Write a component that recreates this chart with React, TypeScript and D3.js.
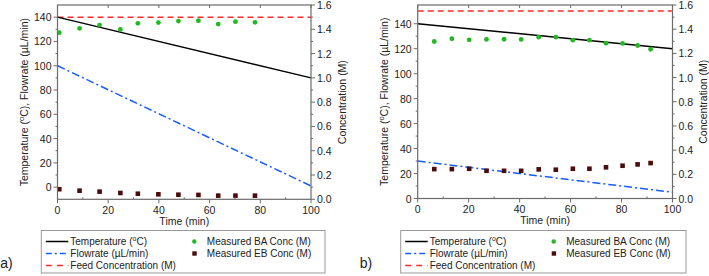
import React from "react";
import * as d3 from "d3";

const timeLine = [0, 100];
const tempA = [140, 90];
const flowA = [100, 1];
const feedA = 1.5;
const timesA = [0.7, 8.7, 16.6, 24.8, 31.7, 39.8, 47.7, 55.6, 63.4, 70.2, 77.9];
const baA = [1.372, 1.407, 1.435, 1.399, 1.449, 1.455, 1.468, 1.471, 1.443, 1.463, 1.457];
const ebA = [0.083, 0.071, 0.063, 0.052, 0.046, 0.041, 0.038, 0.036, 0.03, 0.03, 0.03];

const tempB = [140, 120];
const flowB = [30, 5];
const feedB = 1.55;
const timesB = [6.5, 13.4, 20.2, 27.0, 33.9, 40.6, 47.5, 54.2, 60.9, 67.4, 73.9, 80.4, 86.3, 91.4];
const baB = [1.298, 1.321, 1.312, 1.315, 1.317, 1.315, 1.334, 1.334, 1.309, 1.309, 1.284, 1.282, 1.265, 1.234];
const ebB = [0.243, 0.243, 0.246, 0.229, 0.229, 0.229, 0.241, 0.238, 0.246, 0.246, 0.258, 0.271, 0.282, 0.293];

const xTicks = [0, 20, 40, 60, 80, 100];
const leftTicks = [0, 20, 40, 60, 80, 100, 120, 140];
const rightTicks = [0, 0.2, 0.4, 0.6, 0.8, 1.0, 1.2, 1.4, 1.6];

const FONT = "Liberation Sans, Arial, sans-serif";
const AX = "#6b6b6b";
const BLACK = "#000";
const BLUE = "#1a5cff";
const RED = "#ff2a2a";
const GREEN = "#22b822";
const MAROON = "#4a0c0c";
const TICK_FS = 10.5;
const LAB_FS = 10.5;
const LEG_FS = 10;

type PanelProps = {
  x0: number; x1: number; yTop: number; yBot: number;
  leftDomain: [number, number];
  temp: number[]; flow: number[]; feed: number;
  times: number[]; ba: number[]; eb: number[];
  label: string; legX: number; legW: number;
};

function Panel(p: PanelProps) {
  const x = d3.scaleLinear().domain([0, 100]).range([p.x0, p.x1]);
  const yL = d3.scaleLinear().domain(p.leftDomain).range([p.yBot, p.yTop]);
  const yR = d3.scaleLinear().domain([0, 1.6]).range([p.yBot, p.yTop]);
  const line = d3.line<[number, number]>().x((d) => d[0]).y((d) => d[1]);
  const tempPath = line(timeLine.map((t, i) => [x(t), yL(p.temp[i])]));
  const flowPath = line(timeLine.map((t, i) => [x(t), yL(p.flow[i])]));
  const feedPath = line(timeLine.map((t) => [x(t), yR(p.feed)]));
  const xMinor = d3.range(10, 100, 20);
  const leftMinor = d3.range(10, 150, 20).filter((v) => v > p.leftDomain[0] && v < p.leftDomain[1]);
  const rightMinor = d3.range(0.1, 1.6, 0.2);
  const xMid = (p.x0 + p.x1) / 2;
  const yMid = (p.yTop + p.yBot) / 2;
  const legY = [241.5, 253.5, 265.5];
  const lx = p.legX;
  return (
    <g fontFamily={FONT} fill="#222">
      {/* data */}
      <path d={feedPath!} stroke={RED} strokeWidth={1.5} fill="none" strokeDasharray="6,4" />
      <path d={tempPath!} stroke={BLACK} strokeWidth={1.5} fill="none" />
      <path d={flowPath!} stroke={BLUE} strokeWidth={1.5} fill="none" strokeDasharray="8,3,2,3" />
      {p.times.map((t, i) => (
        <circle key={"g" + i} cx={x(t)} cy={yR(p.ba[i])} r={2.4} fill={GREEN} />
      ))}
      {p.times.map((t, i) => (
        <rect key={"m" + i} x={x(t) - 2.3} y={yR(p.eb[i]) - 2.3} width={4.6} height={4.6} fill={MAROON} />
      ))}
      {/* frame */}
      <rect x={p.x0} y={p.yTop} width={p.x1 - p.x0} height={p.yBot - p.yTop} fill="none" stroke={AX} strokeWidth={1.2} />
      {/* bottom axis */}
      {xTicks.map((v) => (
        <g key={"xt" + v}>
          <line x1={x(v)} x2={x(v)} y1={p.yBot} y2={p.yBot + 4} stroke={AX} />
          <line x1={x(v)} x2={x(v)} y1={p.yTop} y2={p.yTop + 3} stroke={AX} />
          <text x={x(v)} y={p.yBot + 14.5} fontSize={TICK_FS} textAnchor="middle">{v}</text>
        </g>
      ))}
      {xMinor.map((v) => (
        <g key={"xm" + v}>
          <line x1={x(v)} x2={x(v)} y1={p.yBot} y2={p.yBot - 2} stroke={AX} />
        </g>
      ))}
      <text x={xMid} y={p.yBot + 25.5} fontSize={LAB_FS} textAnchor="middle">Time (min)</text>
      {/* left axis */}
      {leftTicks.map((v) => (
        <g key={"lt" + v}>
          <line x1={p.x0 - 4} x2={p.x0} y1={yL(v)} y2={yL(v)} stroke={AX} />
          <text x={p.x0 - 6} y={yL(v) + 4} fontSize={TICK_FS} textAnchor="end">{v}</text>
        </g>
      ))}
      {leftMinor.map((v) => (
        <line key={"lm" + v} x1={p.x0 - 2} x2={p.x0} y1={yL(v)} y2={yL(v)} stroke={AX} />
      ))}
      <text transform={`translate(${p.x0 - 30},${yMid}) rotate(-90)`} fontSize={LAB_FS} textAnchor="middle">
        Temperature (<tspan dy={-4} fontSize={7.5}>o</tspan><tspan dy={4}>C), Flowrate (µL/min)</tspan>
      </text>
      {/* right axis */}
      {rightTicks.map((v) => (
        <g key={"rt" + v}>
          <line x1={p.x1} x2={p.x1 + 4} y1={yR(v)} y2={yR(v)} stroke={AX} />
          <text x={p.x1 + 6} y={yR(v) + 4} fontSize={TICK_FS}>{v.toFixed(1)}</text>
        </g>
      ))}
      {rightMinor.map((v) => (
        <line key={"rm" + v} x1={p.x1} x2={p.x1 + 2} y1={yR(v)} y2={yR(v)} stroke={AX} />
      ))}
      <text transform={`translate(${p.x1 + 34.5},${yMid}) rotate(-90)`} fontSize={LAB_FS} textAnchor="middle">
        Concentration (M)
      </text>
      {/* legend */}
      <rect x={lx} y={230.5} width={p.legW} height={42.5} fill="#fff" stroke="#999" strokeWidth={1} />
      <line x1={lx + 4.5} x2={lx + 27} y1={legY[0]} y2={legY[0]} stroke={BLACK} strokeWidth={1.5} />
      <line x1={lx + 4.5} x2={lx + 27} y1={legY[1]} y2={legY[1]} stroke={BLUE} strokeWidth={1.5} strokeDasharray="6,3,2,3" />
      <line x1={lx + 4.5} x2={lx + 27} y1={legY[2]} y2={legY[2]} stroke={RED} strokeWidth={1.5} strokeDasharray="6,5" />
      <text x={lx + 29} y={legY[0] + 3.5} fontSize={LEG_FS}>
        Temperature (<tspan dy={-4} fontSize={7}>o</tspan><tspan dy={4}>C)</tspan>
      </text>
      <text x={lx + 29} y={legY[1] + 3.5} fontSize={LEG_FS}>Flowrate (µL/min)</text>
      <text x={lx + 29} y={legY[2] + 3.5} fontSize={LEG_FS}>Feed Concentration (M)</text>
      <circle cx={lx + 153} cy={legY[0]} r={2.2} fill={GREEN} />
      <rect x={lx + 151} y={legY[1] - 2.2} width={4.4} height={4.4} fill={MAROON} />
      <text x={lx + 165.5} y={legY[0] + 3.5} fontSize={LEG_FS}>Measured BA Conc (M)</text>
      <text x={lx + 165.5} y={legY[1] + 3.5} fontSize={LEG_FS}>Measured EB Conc (M)</text>
      <text x={lx - 41} y={268} fontSize={14}>{p.label}</text>
    </g>
  );
}

export default function App() {
  return (
    <svg width={709} height={276} style={{ position: "absolute", left: 0, top: 0, background: "#fff" }}>
      <Panel x0={57.5} x1={311} yTop={5} yBot={199.3} leftDomain={[-10, 150]}
        temp={tempA} flow={flowA} feed={feedA} times={timesA} ba={baA} eb={ebA}
        label="a)" legX={41.3} legW={283.7} />
      <Panel x0={417.7} x1={672.5} yTop={5} yBot={198.5} leftDomain={[0, 155]}
        temp={tempB} flow={flowB} feed={feedB} times={timesB} ba={baB} eb={ebB}
        label="b)" legX={400.7} legW={285.3} />
    </svg>
  );
}
